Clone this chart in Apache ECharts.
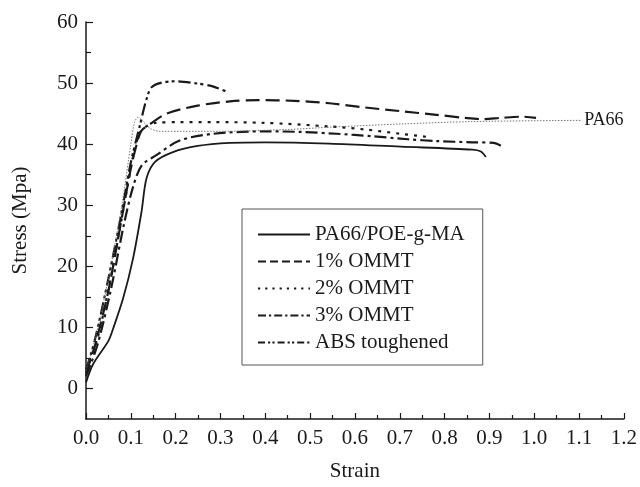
<!DOCTYPE html>
<html>
<head>
<meta charset="utf-8">
<script src="https://cdn.jsdelivr.net/npm/echarts@6/dist/echarts.min.js"></script>
<style>
  html, body { margin: 0; padding: 0; background: #fff; }
  #chart { width: 640px; height: 487px; }
</style>
</head>
<body>
<div id="chart"></div>
<script>
// strain / stress pairs
const seriesNames = ['PA66/POE-g-MA', '1% OMMT', '2% OMMT', '3% OMMT', 'ABS toughened'];
const poeData = [[0, 1], [0.016, 4], [0.05, 7.8], [0.061, 9.9], [0.083, 14.8], [0.105, 21.3], [0.124, 29], [0.135, 34.4],
  [0.154, 37.1], [0.194, 38.7], [0.249, 39.7], [0.321, 40.2], [0.4, 40.3], [0.543, 40.1], [0.702, 39.6],
  [0.862, 39.1], [0.881, 38.8], [0.892, 37.9]];
const omm1Data = [[0, 2.5], [0.02, 7], [0.05, 16], [0.08, 28], [0.1, 36], [0.115, 40.5], [0.124, 42.2], [0.143, 43.3],
  [0.18, 45], [0.249, 46.3], [0.321, 47], [0.384, 47.2], [0.464, 47.1], [0.543, 46.7], [0.623, 46],
  [0.702, 45.4], [0.782, 44.8], [0.846, 44.3], [0.885, 44.1], [0.925, 44.3], [0.973, 44.5], [1.004, 44.3]];
const omm2Data = [[0, 3], [0.025, 8], [0.055, 18], [0.085, 30], [0.105, 38], [0.118, 41.5], [0.128, 42.6], [0.157, 43.5],
  [0.209, 43.6], [0.284, 43.6], [0.395, 43.5], [0.543, 42.9], [0.623, 42.4], [0.702, 41.7], [0.76, 41.2]];
const omm3Data = [[0, 2], [0.025, 7], [0.055, 16], [0.085, 27], [0.105, 33], [0.124, 36.5], [0.157, 38.2], [0.209, 40.6],
  [0.284, 41.7], [0.4, 42.1], [0.48, 42], [0.559, 41.7], [0.639, 41.3], [0.718, 40.8], [0.782, 40.5],
  [0.862, 40.3], [0.909, 40.2], [0.929, 39.6]];
const absData = [[0, 3], [0.02, 8], [0.05, 18], [0.08, 29], [0.1, 37], [0.12, 43], [0.134, 47.1], [0.146, 49.3],
  [0.17, 50.1], [0.201, 50.3], [0.241, 50], [0.281, 49.5], [0.317, 48.5]];
const pa66Data = [[0, 3], [0.02, 8], [0.05, 18], [0.08, 30], [0.1, 40], [0.108, 43.5], [0.116, 44.4], [0.13, 43.5],
  [0.145, 42.5], [0.165, 42.1], [0.3, 42.1], [0.45, 42.4], [0.55, 42.8], [0.702, 43.3], [0.862, 43.7], [1.107, 43.9]];
const yLabelValues = [0, 10, 20, 30, 40, 50, 60];
const yMinorValues = [5, 15, 25, 35, 45, 55];

const font = 'Liberation Serif';
const ink = '#1a1a1a';

// dash patterns: plot lines are drawn longer than the legend samples
const plotDash = ['solid', [14, 6], [3, 6], [12, 4, 3, 4], [12, 4, 3, 3, 3, 4]];
const legendDash = ['solid', [8, 4], [2.2, 5], [8, 3, 2.2, 3], [7, 3, 2.2, 2.2, 2.2, 3]];

let myChart = echarts.init(document.getElementById('chart'));

function curve(name, data, type, width, color) {
  return {
    name: name,
    type: 'line',
    data: data,
    showSymbol: false,
    symbol: 'none',
    smooth: 0.3,
    color: color || ink,
    lineStyle: { color: color || ink, width: width, type: type }
  };
}

myChart.setOption({
  animation: false,
  grid: { left: 86, right: 16, top: 22, bottom: 67 },
  legend: {
    data: seriesNames.map(function (n, i) {
      return { name: n, lineStyle: { type: legendDash[i] } };
    }),
    orient: 'vertical',
    left: 242,
    top: 209,
    itemWidth: 52,
    itemHeight: 14,
    itemGap: 6,
    padding: [15, 18, 12, 15],
    borderColor: '#555',
    borderWidth: 1,
    itemStyle: { color: 'rgba(0,0,0,0)', opacity: 0, borderWidth: 0 },
    textStyle: { fontFamily: font, fontSize: 21, color: ink }
  },
  xAxis: {
    type: 'value',
    min: 0,
    max: 1.2,
    interval: 0.1,
    name: 'Strain',
    nameLocation: 'middle',
    nameGap: 42,
    nameTextStyle: { fontFamily: font, fontSize: 21, color: ink },
    axisLine: { onZero: false, lineStyle: { color: ink, width: 1.5 } },
    axisTick: { inside: true, length: 6, lineStyle: { color: ink, width: 1.2 } },
    minorTick: { show: true, splitNumber: 2, length: 4, lineStyle: { color: ink, width: 1.2 } },
    splitLine: { show: false },
    axisLabel: { fontFamily: font, fontSize: 21, color: ink, margin: 9,
      formatter: function (v) { return v.toFixed(1); } }
  },
  yAxis: [{
    type: 'value',
    min: -5,
    max: 60,
    name: 'Stress (Mpa)',
    nameLocation: 'middle',
    nameGap: 55,
    nameTextStyle: { fontFamily: font, fontSize: 21, color: ink },
    axisLine: { show: true, onZero: false, lineStyle: { color: ink, width: 1.5 } },
    axisTick: { inside: true, length: 7, customValues: yLabelValues, lineStyle: { color: ink, width: 1.2 } },
    splitLine: { show: false },
    axisLabel: { customValues: yLabelValues, fontFamily: font, fontSize: 21, color: ink, margin: 8 }
  }, {
    type: 'value',
    min: -5,
    max: 60,
    position: 'left',
    axisLine: { show: false, onZero: false },
    axisTick: { show: true, inside: true, length: 5, customValues: yMinorValues, lineStyle: { color: ink, width: 1.2 } },
    axisLabel: { show: false },
    splitLine: { show: false }
  }],
  series: [
    curve(seriesNames[0], poeData, plotDash[0], 1.8),
    curve(seriesNames[1], omm1Data, plotDash[1], 2.2),
    curve(seriesNames[2], omm2Data, plotDash[2], 2.2),
    curve(seriesNames[3], omm3Data, plotDash[3], 2.2),
    curve(seriesNames[4], absData, plotDash[4], 2.2),
    Object.assign(curve('PA66', pa66Data, [1.5, 1.5], 0.9, '#666'), {
      endLabel: { show: true, formatter: 'PA66', fontFamily: font, fontSize: 18, color: ink, distance: 2 }
    })
  ]
});
window.addEventListener('resize', function () {
  myChart.resize();
});
</script>
</body>
</html>
